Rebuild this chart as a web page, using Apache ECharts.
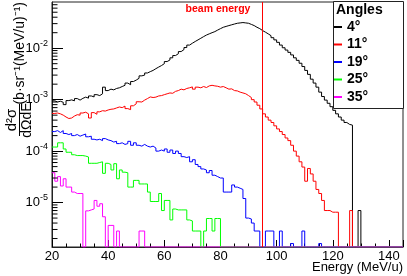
<!DOCTYPE html>
<html><head><meta charset="utf-8">
<script src="https://cdn.jsdelivr.net/npm/echarts@6/dist/echarts.min.js"></script>
<style>html,body{margin:0;padding:0;background:#fff}#c{width:407px;height:276px}</style>
</head><body><div id="c"></div>
<script>
// ---- data ----
const BIN_START = 20;          // first bin low edge (MeV/u)
const BIN_WIDTH = 1;           // bin width (MeV/u)
const X_MIN = 20, X_MAX = 145;
const Y_MIN = 1.37e-6, Y_MAX = 0.079;
const BEAM_ENERGY = 95;
const ANGLES = ['4°', '11°', '19°', '25°', '35°'];
const COLORS = ['#000000', '#ff0000', '#0000ff', '#00ff00', '#ff00ff'];

const H_4 = [
 9.5e-4,9.0e-4,9.3e-4,8.9e-4,8.0e-4,9.6e-4,9.9e-4,9.5e-4,1.05e-3,9.8e-4,
 1.06e-3,1.12e-3,1.07e-3,1.18e-3,1.13e-3,1.25e-3,1.2e-3,1.3e-3,1.75e-3,1.5e-3,
 1.6e-3,1.55e-3,1.65e-3,1.7e-3,1.8e-3,1.9e-3,2.1e-3,1.95e-3,2.25e-3,2.4e-3,
 2.6e-3,2.9e-3,3.0e-3,3.3e-3,3.5e-3,3.7e-3,4.0e-3,4.3e-3,4.6e-3,5.0e-3,
 5.5e-3,5.9e-3,6.5e-3,7.2e-3,7.8e-3,8.6e-3,9.4e-3,1.03e-2,1.15e-2,1.25e-2,
 1.35e-2,1.45e-2,1.56e-2,1.68e-2,1.8e-2,1.9e-2,2.0e-2,2.1e-2,2.25e-2,2.4e-2,
 2.55e-2,2.65e-2,2.75e-2,2.85e-2,2.95e-2,3.05e-2,3.1e-2,3.15e-2,3.1e-2,3.05e-2,
 2.9e-2,2.75e-2,2.55e-2,2.4e-2,2.2e-2,2.05e-2,1.9e-2,1.75e-2,1.6e-2,1.45e-2,
 1.3e-2,1.15e-2,1.02e-2,9.2e-3,8.3e-3,7.4e-3,6.5e-3,5.8e-3,5.1e-3,4.4e-3,
 3.7e-3,3.1e-3,2.5e-3,2.1e-3,1.75e-3,1.4e-3,1.15e-3,9.8e-4,8.5e-4,7.3e-4,
 6.2e-4,5.3e-4,4.6e-4,4.0e-4,3.6e-4,3.3e-4,3.2e-4,0,0,7e-6
];
const H_11 = [
 5.4e-4,5.5e-4,5.3e-4,5.0e-4,4.6e-4,4.3e-4,4.4e-4,4.8e-4,5.1e-4,5.0e-4,
 5.5e-4,5.7e-4,5.3e-4,4.4e-4,5.6e-4,5.2e-4,5.8e-4,6.1e-4,6.0e-4,6.3e-4,
 6.5e-4,6.6e-4,6.9e-4,7.2e-4,7.0e-4,7.5e-4,6.7e-4,6.4e-4,7.6e-4,8.3e-4,
 9.1e-4,9.0e-4,9.8e-4,1.05e-3,1.13e-3,1.1e-3,1.12e-3,1.18e-3,1.2e-3,1.25e-3,
 1.3e-3,1.35e-3,1.33e-3,1.45e-3,1.5e-3,1.6e-3,1.55e-3,1.65e-3,1.7e-3,1.77e-3,
 1.6e-3,1.75e-3,1.7e-3,1.8e-3,1.72e-3,1.85e-3,1.9e-3,1.85e-3,1.82e-3,1.75e-3,
 1.8e-3,1.7e-3,1.6e-3,1.62e-3,1.5e-3,1.48e-3,1.4e-3,1.35e-3,1.3e-3,1.2e-3,
 1.1e-3,1.0e-3,9.0e-4,7.8e-4,6.6e-4,5.3e-4,4.6e-4,4.0e-4,3.6e-4,3.1e-4,
 2.7e-4,2.4e-4,2.1e-4,1.8e-4,1.6e-4,1.3e-4,1.0e-4,8.0e-5,6.2e-5,4.9e-5,
 2.6e-5,4.6e-5,3.6e-5,2.6e-5,1.8e-5,1.5e-5,1.1e-5,7e-6,7e-6,6.5e-6,
 6.5e-6,6.5e-6,0,0,0,0,7e-6,0,0,0
];
const H_19 = [
 2.4e-4,2.5e-4,2.3e-4,2.5e-4,2.2e-4,2.1e-4,2.2e-4,2.0e-4,2.1e-4,1.95e-4,
 2.05e-4,2.15e-4,1.9e-4,1.95e-4,1.7e-4,1.65e-4,1.7e-4,1.6e-4,1.75e-4,1.65e-4,
 1.6e-4,1.5e-4,1.55e-4,1.4e-4,1.45e-4,1.35e-4,1.4e-4,1.55e-4,1.3e-4,1.45e-4,
 1.3e-4,1.25e-4,1.35e-4,1.25e-4,1.2e-4,1.25e-4,1.15e-4,1.0e-4,1.05e-4,1.0e-4,
 1.1e-4,9.5e-5,1.05e-4,9.0e-5,1.0e-4,9.0e-5,7.8e-5,7.5e-5,7.8e-5,6.2e-5,
 6.8e-5,5.5e-5,5.0e-5,4.5e-5,4.3e-5,3.8e-5,4.2e-5,3.4e-5,3.2e-5,3.0e-5,
 3.0e-5,1.6e-5,1.6e-5,1.6e-5,2.2e-5,2.0e-5,1.9e-5,1.8e-5,1.2e-5,5.0e-6,
 4.8e-6,4.0e-6,2.8e-6,2.8e-6,0,0,2.8e-6,2.8e-6,2.8e-6,0,
 0,2.8e-6,0,0,0,1.6e-6,0,0,0,2.8e-6,
 0,0,0,0,0,1.6e-6,0,0,0,0,
 0,0,0,0,0,0,0,0,0,0
];
const H_25 = [
 1.2e-4,1.2e-4,1.45e-4,1.45e-4,1.1e-4,9.5e-5,9.5e-5,8.5e-5,8.2e-5,8.2e-5,
 8.2e-5,8.0e-5,7.7e-5,5.8e-5,5.8e-5,5.8e-5,6.0e-5,6.2e-5,3.7e-5,5.8e-5,
 5.5e-5,4.3e-5,5.7e-5,2.9e-5,4.3e-5,3.9e-5,3.8e-5,2.0e-5,2.0e-5,2.7e-5,
 2.7e-5,2.3e-5,2.3e-5,2.3e-5,1.6e-5,1.05e-5,1.05e-5,1.05e-5,1.5e-5,7.0e-6,
 1.1e-5,1.1e-5,4.6e-6,7.5e-6,7.2e-6,7.2e-6,7.2e-6,7.2e-6,4.6e-6,4.4e-6,
 2.8e-6,2.8e-6,2.8e-6,0,2.8e-6,4.9e-6,4.9e-6,2.8e-6,4.9e-6,4.9e-6,
 0,0,0,0,0,0,0,0,0,0,
 0,0,0,0,0,0,0,0,0,0,
 0,0,0,0,0,0,0,0,0,0,
 0,0,0,0,0,0,0,0,0,0,
 0,0,0,0,0,0,0,0,0,0
];
const H_35 = [
 3.8e-5,2.6e-5,3.2e-5,2.1e-5,2.9e-5,2.0e-5,2.0e-5,1.6e-5,1.5e-5,1.5e-5,
 1.5e-5,0,6.9e-6,7.2e-6,7.5e-6,1.1e-5,8.5e-6,9.5e-6,5.3e-6,0,
 3.6e-6,3.6e-6,0,2.8e-6,0,0,0,0,0,0,
 0,2.8e-6,2.8e-6,0,0,0,0,0,0,0,
 0,0,0,0,0,0,0,0,0,0,
 0,0,0,0,0,0,0,0,0,0,
 0,0,0,0,0,0,0,0,0,0,
 0,0,0,0,0,0,0,0,0,0,
 0,0,0,0,0,0,0,0,0,0,
 0,0,0,0,0,0,0,0,0,0,
 0,0,0,0,0,0,0,0,0,0
];
const HISTS = [H_4, H_11, H_19, H_25, H_35];
const Y_DECADES = [1e-6, 1e-5, 1e-4, 1e-3, 1e-2];

// ---- build ----
const FONT = '"Liberation Sans", Arial, Helvetica, sans-serif';
function histPoints(h) {
  // empty bins sit on the bottom of the log frame, as ROOT draws them
  const pts = h.map((v, i) => [BIN_START + i * BIN_WIDTH, v > 0 ? v : Y_MIN]);
  pts.push([BIN_START + h.length * BIN_WIDTH, Y_MIN]);
  pts.push([X_MAX, Y_MIN]);
  return pts;
}
const minorVals = [];
Y_DECADES.forEach(d => { for (let k = 2; k <= 9; k++) { const v = k * d; if (v > Y_MIN && v < Y_MAX) minorVals.push([X_MIN, v]); } });

const series = HISTS.map((h, i) => ({
  type: 'line', name: ANGLES[i], step: 'end', symbol: 'none', showSymbol: false,
  data: histPoints(h), color: COLORS[i],
  lineStyle: { color: COLORS[i], width: 1 }, itemStyle: { color: COLORS[i] },
  emphasis: { disabled: true }, silent: true, animation: false, z: 2
}));
series[series.length - 1].markLine = {
  silent: true, symbol: 'none', animation: false,
  label: { show: false }, lineStyle: { color: '#ff0000', width: 1, type: 'solid' },
  data: [{ xAxis: BEAM_ENERGY }]
};
series.push({
  type: 'custom', silent: true, animation: false, clip: false, z: 3,
  data: minorVals, encode: { x: 0, y: 1 },
  renderItem: (params, api) => {
    const p = api.coord([api.value(0), api.value(1)]);
    return { type: 'line', shape: { x1: p[0], y1: p[1], x2: p[0] + 5.5, y2: p[1] }, style: { stroke: '#000', lineWidth: 1 } };
  }
});

const chart = echarts.init(document.getElementById('c'), null, { renderer: 'canvas' });
chart.setOption({
  animation: false,
  backgroundColor: '#fff',
  grid: { left: 52, right: 4, top: 2, bottom: 29, show: true, borderColor: '#222', borderWidth: 1, backgroundColor: 'transparent' },
  xAxis: {
    type: 'value', min: X_MIN, max: X_MAX, interval: 20,
    axisLine: { show: true, lineStyle: { color: '#222', width: 1 } },
    axisTick: { show: true, inside: true, length: 7, lineStyle: { color: '#000' } },
    minorTick: { show: true, splitNumber: 4, length: 3.5, lineStyle: { color: '#000' } },
    splitLine: { show: false }, minorSplitLine: { show: false },
    axisLabel: { fontSize: 13, color: '#000', fontFamily: FONT, margin: 3, showMaxLabel: false }
  },
  yAxis: {
    type: 'log', logBase: 10, min: Y_MIN, max: Y_MAX, splitNumber: 5,
    axisLine: { show: true, lineStyle: { color: '#222', width: 1 } },
    axisTick: { show: true, inside: true, length: 11, lineStyle: { color: '#000' } },
    splitLine: { show: false },
    axisLabel: {
      margin: 4, showMinLabel: false, showMaxLabel: false,
      formatter: v => '{b|10}{e|' + Math.round(Math.log10(v)) + '}',
      rich: {
        b: { fontSize: 13, color: '#000', fontFamily: FONT },
        e: { fontSize: 9, color: '#000', fontFamily: FONT, padding: [0, 0, 10, 0] }
      }
    }
  },
  legend: {
    show: true, left: 334, top: 19, orient: 'vertical', padding: 0, itemGap: 1.5,
    itemWidth: 8, itemHeight: 2, icon: 'rect', selectedMode: false, z: 4,
    data: ANGLES,
    textStyle: { fontFamily: FONT, fontSize: 14, fontWeight: 'bold', color: '#000', lineHeight: 16 }
  },
  graphic: [
    { type: 'rect', z: 3, shape: { x: 333.5, y: 1.5, width: 70, height: 107 }, style: { fill: '#fff', stroke: '#222', lineWidth: 1 } },
    { type: 'text', z: 5, x: 336, y: 10, style: { text: 'Angles', font: 'bold 14px ' + FONT, fill: '#000', align: 'left', verticalAlign: 'middle' } },
    { type: 'text', z: 5, x: 218, y: 9, style: { text: 'beam energy', font: 'bold 10.5px ' + FONT, fill: '#ff0000', align: 'center', verticalAlign: 'middle' } },
    { type: 'text', z: 5, x: 403, y: 267, style: { text: 'Energy (MeV/u)', font: '13px ' + FONT, fill: '#000', align: 'right', verticalAlign: 'middle' } },
    { type: 'text', z: 5, x: 20, y: 2, rotation: Math.PI / 2, style: { text: '(b·sr⁻¹(MeV/u)⁻¹)', font: '14px ' + FONT, fill: '#000', align: 'right', verticalAlign: 'middle' } },
    { type: 'text', z: 5, x: 12, y: 120, rotation: Math.PI / 2, style: { text: 'd²σ', font: '15px ' + FONT, fill: '#000', align: 'center', verticalAlign: 'middle' } },
    { type: 'text', z: 5, x: 27.5, y: 120, rotation: Math.PI / 2, style: { text: 'dΩdE', font: '14px ' + FONT, fill: '#000', align: 'center', verticalAlign: 'middle' } },
    { type: 'line', z: 5, shape: { x1: 19.5, y1: 104, x2: 19.5, y2: 136 }, style: { stroke: '#000', lineWidth: 1 } }
  ],
  series: series
});
</script></body></html>
